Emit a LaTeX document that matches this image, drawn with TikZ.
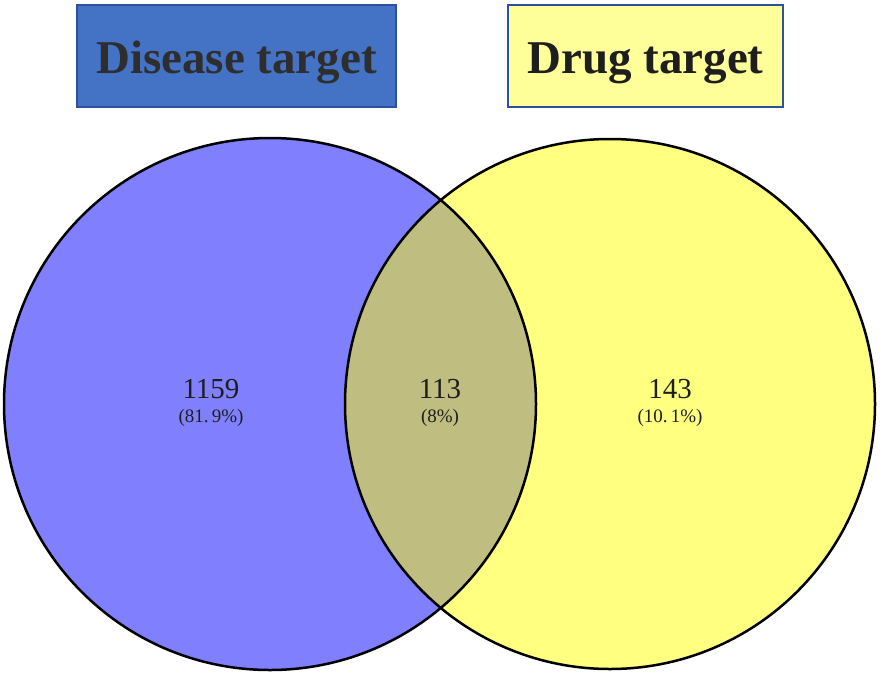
\documentclass[tikz,border=0pt]{standalone}
\usepackage{fontspec}
\setmainfont{Liberation Serif}
\definecolor{leftfill}{HTML}{8080FF}
\definecolor{rightfill}{HTML}{FFFF80}
\definecolor{lensfill}{HTML}{BFBD80}
\definecolor{dbox}{HTML}{4472C4}
\definecolor{ybox}{HTML}{FFFF99}
\definecolor{boxline}{HTML}{2F4F9F}
\definecolor{titletxt}{HTML}{2E2E2E}
\definecolor{numtxt}{HTML}{1E1E1E}
\tikzset{
  titlebox/.style={draw=boxline, line width=1.5pt, inner sep=0pt, minimum width=#1, minimum height=102pt,
    text height=44pt, text depth=10pt,
    font=\fontsize{47}{50}\selectfont\bfseries, text=titletxt},
  setcircle/.style={circle, draw=black, line width=2.5pt, inner sep=0pt, minimum size=#1},
  numlab/.style={font=\fontsize{29}{30}\selectfont, text=numtxt, inner sep=0pt},
  pctlab/.style={font=\fontsize{19}{20}\selectfont, text=numtxt, inner sep=0pt}
}
\begin{document}
\begin{tikzpicture}[x=1pt,y=1pt]
\useasboundingbox (0,0) rectangle (886,-683);
% fills
\fill[leftfill] (270,-404) circle (266);
\fill[rightfill] (610,-404) circle (265);
\begin{scope}
  \clip (270,-404) circle (266);
  \fill[lensfill] (610,-404) circle (265);
\end{scope}
% outlines as named nodes
\node[setcircle=532pt] (L) at (270,-404) {};
\node[setcircle=530pt] (R) at (610,-404) {};
% title boxes
\node[titlebox=319pt, fill=dbox] (dis) at (236.5,-56) {Disease target};
\node[titlebox=275pt, fill=ybox, text=numtxt] (drg) at (645.5,-56) {Drug target};
% numbers
\node[numlab, anchor=base] (n1) at (211,-398) {1159};
\node[pctlab, anchor=base] (p1) at (211,-422) {(81.\,9\%)};
\node[numlab, anchor=base] (n2) at (440,-398) {113};
\node[pctlab, anchor=base] (p2) at (440,-422) {(8\%)};
\node[numlab, anchor=base] (n3) at (670,-398) {143};
\node[pctlab, anchor=base] (p3) at (670,-422) {(10.\,1\%)};
\end{tikzpicture}
\end{document}
